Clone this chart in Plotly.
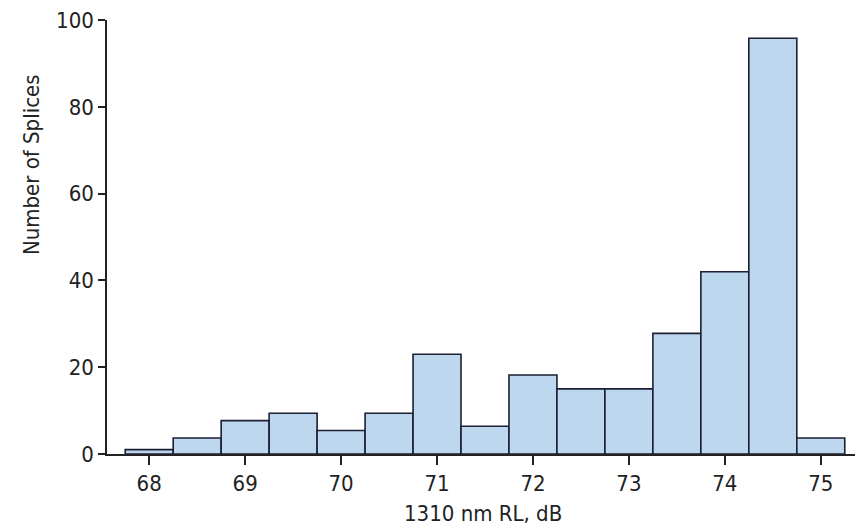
import plotly.graph_objects as go

bin_centers = [68, 68.5, 69, 69.5, 70, 70.5, 71, 71.5, 72, 72.5, 73, 73.5, 74, 74.5, 75]
counts = [1, 3.7, 7.7, 9.4, 5.4, 9.4, 23, 6.4, 18.2, 15, 15, 27.8, 42, 95.8, 3.7]
x_ticks = [68, 69, 70, 71, 72, 73, 74, 75]
y_ticks = [0, 20, 40, 60, 80, 100]

FONT = "DejaVu Sans Condensed, Liberation Sans Narrow, Liberation Sans, Arial, sans-serif"

fig = go.Figure(go.Bar(
    x=bin_centers, y=counts, width=0.5,
    marker=dict(color="#BDD7EE", line=dict(color="#1b1f33", width=1.6)),
))

fig.update_layout(
    width=855, height=521,
    margin=dict(l=99, r=0, t=12, b=75),
    paper_bgcolor="white", plot_bgcolor="white",
    showlegend=False,
    font=dict(family=FONT, size=22, color="#222"),
    xaxis=dict(
        range=[67.56, 75.44], tickvals=x_ticks, ticks="outside", ticklen=9,
        tickwidth=1.5, tickcolor="#222", showline=True, linecolor="#222", linewidth=1.5,
        showgrid=False, zeroline=False, automargin=False, ticklabeloverflow="allow",
    ),
    yaxis=dict(
        range=[0, 100], tickvals=y_ticks, ticks="outside", ticklen=7,
        tickwidth=1.5, tickcolor="#222", showline=True, linecolor="#222", linewidth=1.5,
        showgrid=False, zeroline=False, automargin=False, ticklabeloverflow="allow",
    ),
    annotations=[
        dict(text="Number of Splices", textangle=-90, xref="paper", yref="paper",
             x=-0.099, y=0.666, xanchor="center", yanchor="middle", showarrow=False,
             font=dict(family=FONT, size=22, color="#222")),
        dict(text="1310 nm RL, dB", xref="paper", yref="paper",
             x=0.497, y=-0.136, xanchor="center", yanchor="middle", showarrow=False,
             font=dict(family=FONT, size=22, color="#222")),
    ],
)

fig.write_html("out.html")
